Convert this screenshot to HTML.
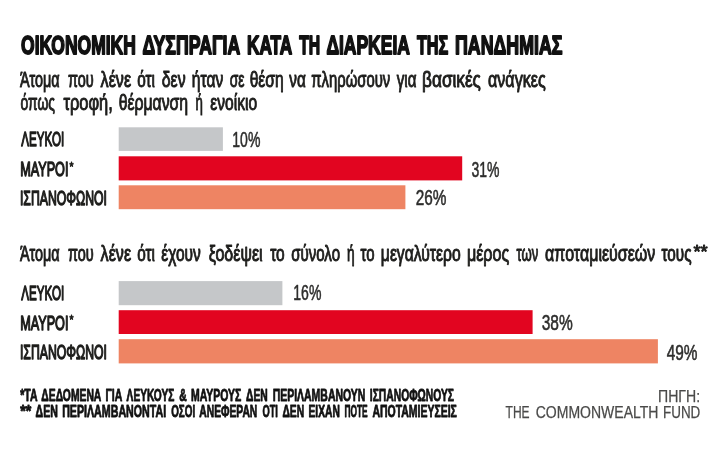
<!DOCTYPE html>
<html><head><meta charset="utf-8"><title>chart</title>
<style>
html,body{margin:0;padding:0;background:#fff;}
svg{display:block;filter:blur(0.45px)}
text{font-family:"Liberation Sans",sans-serif;stroke-linejoin:round}
</style></head><body>
<svg width="722" height="454" viewBox="0 0 722 454">
<rect width="722" height="454" fill="#fff"/>
<rect x="118.7" y="127.3" width="104.2" height="23.6" fill="#c5c7c9"/>
<rect x="118.7" y="156.3" width="343.5" height="24.1" fill="#e20520"/>
<rect x="118.7" y="185.3" width="286.7" height="23.9" fill="#ee8463"/>
<rect x="118.7" y="281.1" width="163.7" height="24.1" fill="#c5c7c9"/>
<rect x="118.7" y="310.2" width="413.9" height="23.8" fill="#e20520"/>
<rect x="118.7" y="339.2" width="539.2" height="24.2" fill="#ee8463"/>
<text x="21.05" y="53.8" font-size="26.4" font-weight="bold" fill="#111" stroke="#111" stroke-width="1.8" textLength="114.75" lengthAdjust="spacingAndGlyphs">ΟΙΚΟΝΟΜΙΚΗ</text>
<text x="142.50" y="53.8" font-size="26.4" font-weight="bold" fill="#111" stroke="#111" stroke-width="1.8" textLength="97.75" lengthAdjust="spacingAndGlyphs">ΔΥΣΠΡΑΓΙΑ</text>
<text x="247.00" y="53.8" font-size="26.4" font-weight="bold" fill="#111" stroke="#111" stroke-width="1.8" textLength="45.25" lengthAdjust="spacingAndGlyphs">ΚΑΤΑ</text>
<text x="299.25" y="53.8" font-size="26.4" font-weight="bold" fill="#111" stroke="#111" stroke-width="1.8" textLength="21.00" lengthAdjust="spacingAndGlyphs">ΤΗ</text>
<text x="326.40" y="53.8" font-size="26.4" font-weight="bold" fill="#111" stroke="#111" stroke-width="1.8" textLength="83.50" lengthAdjust="spacingAndGlyphs">ΔΙΑΡΚΕΙΑ</text>
<text x="416.90" y="53.8" font-size="26.4" font-weight="bold" fill="#111" stroke="#111" stroke-width="1.8" textLength="31.26" lengthAdjust="spacingAndGlyphs">ΤΗΣ</text>
<text x="455.00" y="53.8" font-size="26.4" font-weight="bold" fill="#111" stroke="#111" stroke-width="1.8" textLength="107.50" lengthAdjust="spacingAndGlyphs">ΠΑΝΔΗΜΙΑΣ</text>
<text x="19.95" y="87" font-size="22.3" font-weight="normal" fill="#1d1d1b" stroke="#1d1d1b" stroke-width="1.0" textLength="39.75" lengthAdjust="spacingAndGlyphs">Άτομα</text>
<text x="67.90" y="87" font-size="22.3" font-weight="normal" fill="#1d1d1b" stroke="#1d1d1b" stroke-width="1.0" textLength="25.76" lengthAdjust="spacingAndGlyphs">που</text>
<text x="100.60" y="87" font-size="22.3" font-weight="normal" fill="#1d1d1b" stroke="#1d1d1b" stroke-width="1.0" textLength="30.50" lengthAdjust="spacingAndGlyphs">λένε</text>
<text x="137.25" y="87" font-size="22.3" font-weight="normal" fill="#1d1d1b" stroke="#1d1d1b" stroke-width="1.0" textLength="17.76" lengthAdjust="spacingAndGlyphs">ότι</text>
<text x="161.80" y="87" font-size="22.3" font-weight="normal" fill="#1d1d1b" stroke="#1d1d1b" stroke-width="1.0" textLength="23.77" lengthAdjust="spacingAndGlyphs">δεν</text>
<text x="191.80" y="87" font-size="22.3" font-weight="normal" fill="#1d1d1b" stroke="#1d1d1b" stroke-width="1.0" textLength="31.52" lengthAdjust="spacingAndGlyphs">ήταν</text>
<text x="229.75" y="87" font-size="22.3" font-weight="normal" fill="#1d1d1b" stroke="#1d1d1b" stroke-width="1.0" textLength="14.75" lengthAdjust="spacingAndGlyphs">σε</text>
<text x="249.65" y="87" font-size="22.3" font-weight="normal" fill="#1d1d1b" stroke="#1d1d1b" stroke-width="1.0" textLength="34.03" lengthAdjust="spacingAndGlyphs">θέση</text>
<text x="289.25" y="87" font-size="22.3" font-weight="normal" fill="#1d1d1b" stroke="#1d1d1b" stroke-width="1.0" textLength="16.50" lengthAdjust="spacingAndGlyphs">να</text>
<text x="311.25" y="87" font-size="22.3" font-weight="normal" fill="#1d1d1b" stroke="#1d1d1b" stroke-width="1.0" textLength="79.00" lengthAdjust="spacingAndGlyphs">πληρώσουν</text>
<text x="396.75" y="87" font-size="22.3" font-weight="normal" fill="#1d1d1b" stroke="#1d1d1b" stroke-width="1.0" textLength="19.76" lengthAdjust="spacingAndGlyphs">για</text>
<text x="422.10" y="87" font-size="22.3" font-weight="normal" fill="#1d1d1b" stroke="#1d1d1b" stroke-width="1.0" textLength="58.77" lengthAdjust="spacingAndGlyphs">βασικές</text>
<text x="487.95" y="87" font-size="22.3" font-weight="normal" fill="#1d1d1b" stroke="#1d1d1b" stroke-width="1.0" textLength="57.75" lengthAdjust="spacingAndGlyphs">ανάγκες</text>
<text x="20.55" y="109.5" font-size="22.3" font-weight="normal" fill="#1d1d1b" stroke="#1d1d1b" stroke-width="1.0" textLength="34.50" lengthAdjust="spacingAndGlyphs">όπως</text>
<text x="63.45" y="109.5" font-size="22.3" font-weight="normal" fill="#1d1d1b" stroke="#1d1d1b" stroke-width="1.0" textLength="49.27" lengthAdjust="spacingAndGlyphs">τροφή,</text>
<text x="118.65" y="109.5" font-size="22.3" font-weight="normal" fill="#1d1d1b" stroke="#1d1d1b" stroke-width="1.0" textLength="69.51" lengthAdjust="spacingAndGlyphs">θέρμανση</text>
<text x="195.45" y="109.5" font-size="22.3" font-weight="normal" fill="#1d1d1b" stroke="#1d1d1b" stroke-width="1.0" textLength="7.35" lengthAdjust="spacingAndGlyphs">ή</text>
<text x="210.35" y="109.5" font-size="22.3" font-weight="normal" fill="#1d1d1b" stroke="#1d1d1b" stroke-width="1.0" textLength="46.76" lengthAdjust="spacingAndGlyphs">ενοίκιο</text>
<text x="19.95" y="261" font-size="22.3" font-weight="normal" fill="#1d1d1b" stroke="#1d1d1b" stroke-width="1.0" textLength="39.75" lengthAdjust="spacingAndGlyphs">Άτομα</text>
<text x="67.90" y="261" font-size="22.3" font-weight="normal" fill="#1d1d1b" stroke="#1d1d1b" stroke-width="1.0" textLength="25.76" lengthAdjust="spacingAndGlyphs">που</text>
<text x="100.60" y="261" font-size="22.3" font-weight="normal" fill="#1d1d1b" stroke="#1d1d1b" stroke-width="1.0" textLength="30.50" lengthAdjust="spacingAndGlyphs">λένε</text>
<text x="137.25" y="261" font-size="22.3" font-weight="normal" fill="#1d1d1b" stroke="#1d1d1b" stroke-width="1.0" textLength="17.76" lengthAdjust="spacingAndGlyphs">ότι</text>
<text x="161.35" y="261" font-size="22.3" font-weight="normal" fill="#1d1d1b" stroke="#1d1d1b" stroke-width="1.0" textLength="39.51" lengthAdjust="spacingAndGlyphs">έχουν</text>
<text x="208.65" y="261" font-size="22.3" font-weight="normal" fill="#1d1d1b" stroke="#1d1d1b" stroke-width="1.0" textLength="54.01" lengthAdjust="spacingAndGlyphs">ξοδέψει</text>
<text x="270.15" y="261" font-size="22.3" font-weight="normal" fill="#1d1d1b" stroke="#1d1d1b" stroke-width="1.0" textLength="14.51" lengthAdjust="spacingAndGlyphs">το</text>
<text x="291.25" y="261" font-size="22.3" font-weight="normal" fill="#1d1d1b" stroke="#1d1d1b" stroke-width="1.0" textLength="48.76" lengthAdjust="spacingAndGlyphs">σύνολο</text>
<text x="346.95" y="261" font-size="22.3" font-weight="normal" fill="#1d1d1b" stroke="#1d1d1b" stroke-width="1.0" textLength="7.65" lengthAdjust="spacingAndGlyphs">ή</text>
<text x="360.45" y="261" font-size="22.3" font-weight="normal" fill="#1d1d1b" stroke="#1d1d1b" stroke-width="1.0" textLength="14.00" lengthAdjust="spacingAndGlyphs">το</text>
<text x="380.85" y="261" font-size="22.3" font-weight="normal" fill="#1d1d1b" stroke="#1d1d1b" stroke-width="1.0" textLength="79.76" lengthAdjust="spacingAndGlyphs">μεγαλύτερο</text>
<text x="466.95" y="261" font-size="22.3" font-weight="normal" fill="#1d1d1b" stroke="#1d1d1b" stroke-width="1.0" textLength="42.28" lengthAdjust="spacingAndGlyphs">μέρος</text>
<text x="516.50" y="261" font-size="22.3" font-weight="normal" fill="#1d1d1b" stroke="#1d1d1b" stroke-width="1.0" textLength="21.75" lengthAdjust="spacingAndGlyphs">των</text>
<text x="545.10" y="261" font-size="22.3" font-weight="normal" fill="#1d1d1b" stroke="#1d1d1b" stroke-width="1.0" textLength="110.25" lengthAdjust="spacingAndGlyphs">αποταμιεύσεών</text>
<text x="661.50" y="261" font-size="22.3" font-weight="normal" fill="#1d1d1b" stroke="#1d1d1b" stroke-width="1.0" textLength="30.00" lengthAdjust="spacingAndGlyphs">τους</text>
<text x="693.45" y="258.1" font-size="17.5" font-weight="normal" fill="#1d1d1b" stroke="#1d1d1b" stroke-width="0.9" textLength="14.26" lengthAdjust="spacingAndGlyphs">**</text>
<text x="21.20" y="146.4" font-size="19.4" font-weight="normal" fill="#1d1d1b" stroke="#1d1d1b" stroke-width="1.35" textLength="43.00" lengthAdjust="spacingAndGlyphs">ΛΕΥΚΟΙ</text>
<text x="20.20" y="176.0" font-size="19.4" font-weight="normal" fill="#1d1d1b" stroke="#1d1d1b" stroke-width="1.35" textLength="48.28" lengthAdjust="spacingAndGlyphs">ΜΑΥΡΟΙ</text>
<text x="69.60" y="170.6" font-size="12" font-weight="normal" fill="#1d1d1b" stroke="#1d1d1b" stroke-width="0.8" textLength="4.02" lengthAdjust="spacingAndGlyphs">*</text>
<text x="19.95" y="205.3" font-size="19.4" font-weight="normal" fill="#1d1d1b" stroke="#1d1d1b" stroke-width="1.35" textLength="87.03" lengthAdjust="spacingAndGlyphs">ΙΣΠΑΝΟΦΩΝΟΙ</text>
<text x="21.20" y="300.3" font-size="19.4" font-weight="normal" fill="#1d1d1b" stroke="#1d1d1b" stroke-width="1.35" textLength="43.00" lengthAdjust="spacingAndGlyphs">ΛΕΥΚΟΙ</text>
<text x="20.20" y="329.6" font-size="19.4" font-weight="normal" fill="#1d1d1b" stroke="#1d1d1b" stroke-width="1.35" textLength="48.28" lengthAdjust="spacingAndGlyphs">ΜΑΥΡΟΙ</text>
<text x="69.60" y="324.2" font-size="12" font-weight="normal" fill="#1d1d1b" stroke="#1d1d1b" stroke-width="0.8" textLength="4.02" lengthAdjust="spacingAndGlyphs">*</text>
<text x="19.95" y="359.1" font-size="19.4" font-weight="normal" fill="#1d1d1b" stroke="#1d1d1b" stroke-width="1.35" textLength="87.03" lengthAdjust="spacingAndGlyphs">ΙΣΠΑΝΟΦΩΝΟΙ</text>
<text x="232.30" y="146.6" font-size="21.2" font-weight="normal" fill="#2e2e2d" stroke="#2e2e2d" stroke-width="0.55" textLength="28.06" lengthAdjust="spacingAndGlyphs">10%</text>
<text x="471.45" y="177.3" font-size="21.2" font-weight="normal" fill="#2e2e2d" stroke="#2e2e2d" stroke-width="0.55" textLength="28.01" lengthAdjust="spacingAndGlyphs">31%</text>
<text x="415.70" y="205.3" font-size="21.2" font-weight="normal" fill="#2e2e2d" stroke="#2e2e2d" stroke-width="0.55" textLength="30.78" lengthAdjust="spacingAndGlyphs">26%</text>
<text x="293.30" y="300.1" font-size="21.2" font-weight="normal" fill="#2e2e2d" stroke="#2e2e2d" stroke-width="0.55" textLength="28.06" lengthAdjust="spacingAndGlyphs">16%</text>
<text x="541.65" y="329.5" font-size="21.2" font-weight="normal" fill="#2e2e2d" stroke="#2e2e2d" stroke-width="0.55" textLength="31.02" lengthAdjust="spacingAndGlyphs">38%</text>
<text x="666.75" y="359.5" font-size="21.2" font-weight="normal" fill="#2e2e2d" stroke="#2e2e2d" stroke-width="0.55" textLength="30.76" lengthAdjust="spacingAndGlyphs">49%</text>
<text x="20.25" y="401.1" font-size="16.1" font-weight="bold" fill="#111" stroke="#111" stroke-width="0.8" textLength="17.25" lengthAdjust="spacingAndGlyphs">*ΤΑ</text>
<text x="41.35" y="401.1" font-size="16.1" font-weight="bold" fill="#111" stroke="#111" stroke-width="0.8" textLength="60.00" lengthAdjust="spacingAndGlyphs">ΔΕΔΟΜΕΝΑ</text>
<text x="105.50" y="401.1" font-size="16.1" font-weight="bold" fill="#111" stroke="#111" stroke-width="0.8" textLength="16.77" lengthAdjust="spacingAndGlyphs">ΓΙΑ</text>
<text x="126.60" y="401.1" font-size="16.1" font-weight="bold" fill="#111" stroke="#111" stroke-width="0.8" textLength="47.75" lengthAdjust="spacingAndGlyphs">ΛΕΥΚΟΥΣ</text>
<text x="179.25" y="401.1" font-size="16.1" font-weight="bold" fill="#111" stroke="#111" stroke-width="0.8" textLength="7.51" lengthAdjust="spacingAndGlyphs">&amp;</text>
<text x="191.00" y="401.1" font-size="16.1" font-weight="bold" fill="#111" stroke="#111" stroke-width="0.8" textLength="50.26" lengthAdjust="spacingAndGlyphs">ΜΑΥΡΟΥΣ</text>
<text x="246.05" y="401.1" font-size="16.1" font-weight="bold" fill="#111" stroke="#111" stroke-width="0.8" textLength="21.77" lengthAdjust="spacingAndGlyphs">ΔΕΝ</text>
<text x="272.65" y="401.1" font-size="16.1" font-weight="bold" fill="#111" stroke="#111" stroke-width="0.8" textLength="92.76" lengthAdjust="spacingAndGlyphs">ΠΕΡΙΛΑΜΒΑΝΟΥΝ</text>
<text x="369.80" y="401.1" font-size="16.1" font-weight="bold" fill="#111" stroke="#111" stroke-width="0.8" textLength="84.25" lengthAdjust="spacingAndGlyphs">ΙΣΠΑΝΟΦΩΝΟΥΣ</text>
<text x="20.25" y="417.3" font-size="16.1" font-weight="bold" fill="#111" stroke="#111" stroke-width="0.8" textLength="11.03" lengthAdjust="spacingAndGlyphs">**</text>
<text x="35.55" y="417.3" font-size="16.1" font-weight="bold" fill="#111" stroke="#111" stroke-width="0.8" textLength="22.27" lengthAdjust="spacingAndGlyphs">ΔΕΝ</text>
<text x="62.15" y="417.3" font-size="16.1" font-weight="bold" fill="#111" stroke="#111" stroke-width="0.8" textLength="104.01" lengthAdjust="spacingAndGlyphs">ΠΕΡΙΛΑΜΒΑΝΟΝΤΑΙ</text>
<text x="171.20" y="417.3" font-size="16.1" font-weight="bold" fill="#111" stroke="#111" stroke-width="0.8" textLength="24.01" lengthAdjust="spacingAndGlyphs">ΟΣΟΙ</text>
<text x="199.30" y="417.3" font-size="16.1" font-weight="bold" fill="#111" stroke="#111" stroke-width="0.8" textLength="58.00" lengthAdjust="spacingAndGlyphs">ΑΝΕΦΕΡΑΝ</text>
<text x="262.40" y="417.3" font-size="16.1" font-weight="bold" fill="#111" stroke="#111" stroke-width="0.8" textLength="15.52" lengthAdjust="spacingAndGlyphs">ΟΤΙ</text>
<text x="282.40" y="417.3" font-size="16.1" font-weight="bold" fill="#111" stroke="#111" stroke-width="0.8" textLength="21.77" lengthAdjust="spacingAndGlyphs">ΔΕΝ</text>
<text x="308.50" y="417.3" font-size="16.1" font-weight="bold" fill="#111" stroke="#111" stroke-width="0.8" textLength="31.28" lengthAdjust="spacingAndGlyphs">ΕΙΧΑΝ</text>
<text x="344.45" y="417.3" font-size="16.1" font-weight="bold" fill="#111" stroke="#111" stroke-width="0.8" textLength="23.26" lengthAdjust="spacingAndGlyphs">ΠΟΤΕ</text>
<text x="372.40" y="417.3" font-size="16.1" font-weight="bold" fill="#111" stroke="#111" stroke-width="0.8" textLength="84.50" lengthAdjust="spacingAndGlyphs">ΑΠΟΤΑΜΙΕΥΣΕΙΣ</text>
<text x="658.00" y="402.1" font-size="16.5" font-weight="normal" fill="#4a4a49" stroke="#4a4a49" stroke-width="0.25" textLength="42.12" lengthAdjust="spacingAndGlyphs">ΠΗΓΗ:</text>
<text x="505.55" y="418.0" font-size="16" font-weight="normal" fill="#4a4a49" stroke="#4a4a49" stroke-width="0.25" textLength="24.02" lengthAdjust="spacingAndGlyphs">THE</text>
<text x="535.70" y="418.0" font-size="16" font-weight="normal" fill="#4a4a49" stroke="#4a4a49" stroke-width="0.25" textLength="122.77" lengthAdjust="spacingAndGlyphs">COMMONWEALTH</text>
<text x="663.00" y="418.0" font-size="16" font-weight="normal" fill="#4a4a49" stroke="#4a4a49" stroke-width="0.25" textLength="37.32" lengthAdjust="spacingAndGlyphs">FUND</text>
</svg>
</body></html>
